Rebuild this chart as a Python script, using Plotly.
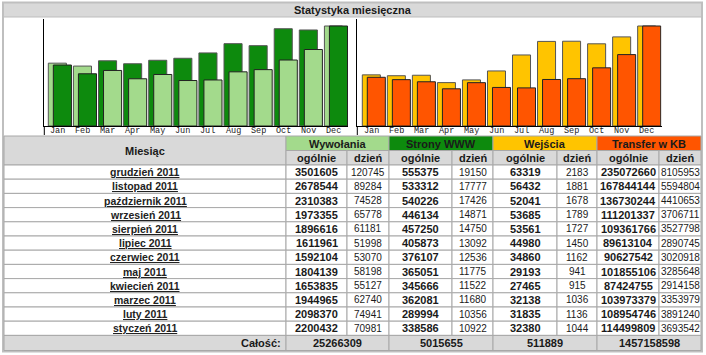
import plotly.graph_objects as go

W, H = 706, 355

# ---------------- data ----------------
title = "Statystyka miesięczna"
month_names = ["grudzień 2011", "listopad 2011", "październik 2011", "wrzesień 2011",
               "sierpień 2011", "lipiec 2011", "czerwiec 2011", "maj 2011",
               "kwiecień 2011", "marzec 2011", "luty 2011", "styczeń 2011"]
month_abbr = ["Jan", "Feb", "Mar", "Apr", "May", "Jun", "Jul", "Aug", "Sep", "Oct", "Nov", "Dec"]
hits_total = [3501605, 2678544, 2310383, 1973355, 1896616, 1611961, 1592104, 1804139,
              1653835, 1944965, 2098370, 2200432]
hits_day = [120745, 89284, 74528, 65778, 61181, 51998, 53070, 58198, 55127, 62740, 74941, 70981]
pages_total = [555375, 533312, 540226, 446134, 457250, 405873, 376107, 365051,
               345666, 362081, 289994, 338586]
pages_day = [19150, 17777, 17426, 14871, 14750, 13092, 12536, 11775, 11522, 11680, 10356, 10922]
visits_total = [63319, 56432, 52041, 53685, 53561, 44980, 34860, 29193, 27465, 32138, 31835, 32380]
visits_day = [2183, 1881, 1678, 1789, 1727, 1450, 1162, 941, 915, 1036, 1136, 1044]
kb_total = [235072660, 167844144, 136730244, 111201337, 109361766, 89613104, 90627542,
            101855106, 87424755, 103973379, 108954746, 114499809]
kb_day = [8105953, 5594804, 4410653, 3706711, 3527798, 2890745, 3020918, 3285648,
          2914158, 3353979, 3891240, 3693542]
grand_totals = [25266309, 5015655, 511889, 1457158598]
group_names = ["Wywołania", "Strony WWW", "Wejścia", "Transfer w KB"]
sub_headers = ["ogólnie", "dzień"]
header_month = "Miesiąc"
total_label = "Całość:"

# ---------------- styles ----------------
C_LGREEN = "#a3da8c"
C_DGREEN = "#0d8a0d"
C_YELLOW = "#ffc400"
C_ORANGE = "#ff5500"
group_colors = [C_LGREEN, C_DGREEN, C_YELLOW, C_ORANGE]
GRAY = "#d9d9d9"
BORDER = "#a8a8a8"
TXT = "#1a1a1a"
FONT = "Liberation Sans"


def px(x):
    return x / W


def py(y):
    return 1 - y / H


fig = go.Figure()


# ---------------- bar charts ----------------
def add_pair(series_a, series_b, col_a, col_b, xa, ya):
    chron_a = list(reversed(series_a))
    chron_b = list(reversed(series_b))
    ma, mb = max(chron_a), max(chron_b)
    back_v, back_c, front_v, front_c = [], [], [], []
    for va, vb in zip(chron_a, chron_b):
        na, nb = va / ma, vb / mb
        if na >= nb:
            back_v.append(na); back_c.append(col_a)
            front_v.append(nb); front_c.append(col_b)
        else:
            back_v.append(nb); back_c.append(col_b)
            front_v.append(na); front_c.append(col_a)
    idx = list(range(len(chron_a)))
    fig.add_trace(go.Bar(x=[i - 0.1 for i in idx], y=back_v, width=0.72,
                         marker=dict(color=back_c, line=dict(color="#555555", width=1)),
                         xaxis=xa, yaxis=ya, showlegend=False, hoverinfo="skip"))
    fig.add_trace(go.Bar(x=[i + 0.1 for i in idx], y=front_v, width=0.72,
                         marker=dict(color=front_c, line=dict(color="#222222", width=1)),
                         xaxis=xa, yaxis=ya, showlegend=False, hoverinfo="skip"))
    xref = "x" if xa == "x" else "x2"
    for i, m in enumerate(month_abbr):
        fig.add_annotation(x=i - 0.1, y=py(131.5), xref=xref, yref="paper", text=m,
                           showarrow=False, xanchor="center", yanchor="middle",
                           font=dict(family="Liberation Mono", size=8.5, color="#222222"))


add_pair(hits_total, pages_total, C_LGREEN, C_DGREEN, "x", "y")
add_pair(visits_total, kb_total, C_YELLOW, C_ORANGE, "x2", "y2")

axis_common = dict(showgrid=False, zeroline=False, showticklabels=False, ticks="",
                   showline=True, linecolor="#000000", linewidth=1, fixedrange=True)
ydom = [py(126), py(19)]

shapes = []


def rect(x0, y0, x1, y1, fill=None, line=BORDER, lw=1):
    shapes.append(dict(type="rect", xref="paper", yref="paper",
                       x0=px(x0), x1=px(x1), y0=py(y1), y1=py(y0),
                       fillcolor=fill if fill else "rgba(0,0,0,0)",
                       line=dict(color=line if line else "rgba(0,0,0,0)", width=lw if line else 0),
                       layer="above"))


def vline(x, y0, y1, color="#000000"):
    shapes.append(dict(type="line", xref="paper", yref="paper", x0=px(x), x1=px(x),
                       y0=py(y0), y1=py(y1), line=dict(color=color, width=1)))


def text(x, y, s, size=11, bold=False, xanchor="center", color=TXT):
    fig.add_annotation(x=px(x), y=py(y), xref="paper", yref="paper",
                       text=("<b>%s</b>" % s) if bold else s, showarrow=False,
                       xanchor=xanchor, yanchor="middle",
                       font=dict(family=FONT, size=size, color=color))


# frame & title bar
rect(4, 3, 701, 17, fill=GRAY, line=None)
shapes.append(dict(type="line", xref="paper", yref="paper", x0=px(4), x1=px(701),
                   y0=py(17), y1=py(17), line=dict(color="#bdbdbd", width=1)))
rect(3, 2.5, 702, 351.5, line="#bfbfbf", lw=2)
text(353, 10, title, size=11, bold=True)

# axis tick extensions below baseline
vline(44.3, 126, 135)
vline(357.3, 126, 135)

# ---------------- table ----------------
edges = [4, 286, 347, 389, 452, 493, 557, 597, 659, 701]
H_TOP, H_MID, H_BOT = 136, 150.5, 165
ROW_H = 14.2

rect(edges[0], H_TOP, edges[1], H_BOT, fill=GRAY)
text((edges[0] + edges[1]) / 2, (H_TOP + H_BOT) / 2, header_month, size=11, bold=True)
for g, name in enumerate(group_names):
    x0, x1, x2 = edges[1 + 2 * g], edges[2 + 2 * g], edges[3 + 2 * g]
    rect(x0, H_TOP, x2, H_MID, fill=group_colors[g])
    text((x0 + x2) / 2, (H_TOP + H_MID) / 2 + 0.5, name, size=11, bold=True)
    rect(x0, H_MID, x1, H_BOT, fill=GRAY)
    rect(x1, H_MID, x2, H_BOT, fill=GRAY)
    text((x0 + x1) / 2, (H_MID + H_BOT) / 2, sub_headers[0], size=11, bold=True)
    text((x1 + x2) / 2, (H_MID + H_BOT) / 2, sub_headers[1], size=11, bold=True)

columns = [hits_total, hits_day, pages_total, pages_day, visits_total, visits_day, kb_total, kb_day]
for r, name in enumerate(month_names):
    y0 = H_BOT + ROW_H * r
    y1 = y0 + ROW_H
    yc = (y0 + y1) / 2
    rect(edges[0], y0, edges[1], y1, fill="#ffffff")
    text((edges[0] + edges[1]) / 2, yc, "<u>%s</u>" % name, size=10.5, bold=True, color="#222222")
    for c, col in enumerate(columns):
        xa, xb = edges[1 + c], edges[2 + c]
        rect(xa, y0, xb, y1, fill="#ffffff")
        is_total = (c % 2 == 0)
        text((xa + xb) / 2, yc, str(col[r]), size=11 if is_total else 10, bold=is_total)

ty0 = H_BOT + ROW_H * len(month_names)
ty1 = 350.5
rect(edges[0], ty0, edges[1], ty1, fill=GRAY)
text(edges[1] - 3, (ty0 + ty1) / 2, total_label, size=11, bold=True, xanchor="right")
for g, tot in enumerate(grand_totals):
    x0, x2 = edges[1 + 2 * g], edges[3 + 2 * g]
    rect(x0, ty0, x2, ty1, fill=GRAY)
    text((x0 + x2) / 2, (ty0 + ty1) / 2, str(tot), size=11, bold=True)

fig.update_layout(
    width=W, height=H, margin=dict(l=0, r=0, t=0, b=0),
    paper_bgcolor="#ffffff", plot_bgcolor="rgba(0,0,0,0)",
    barmode="overlay", bargap=0, showlegend=False,
    xaxis=dict(domain=[px(44.3), px(348)], range=[-0.62, 11.48], anchor="y", **axis_common),
    yaxis=dict(domain=ydom, range=[0, 1.07], anchor="x", **axis_common),
    xaxis2=dict(domain=[px(357.3), px(661.7)], range=[-0.66, 11.5], anchor="y2", **axis_common),
    yaxis2=dict(domain=ydom, range=[0, 1.07], anchor="x2", **axis_common),
    shapes=shapes,
)

fig.write_html("out.html", config={"displayModeBar": False, "staticPlot": True},
               post_script="document.body.style.margin='0';document.body.style.padding='0';")
